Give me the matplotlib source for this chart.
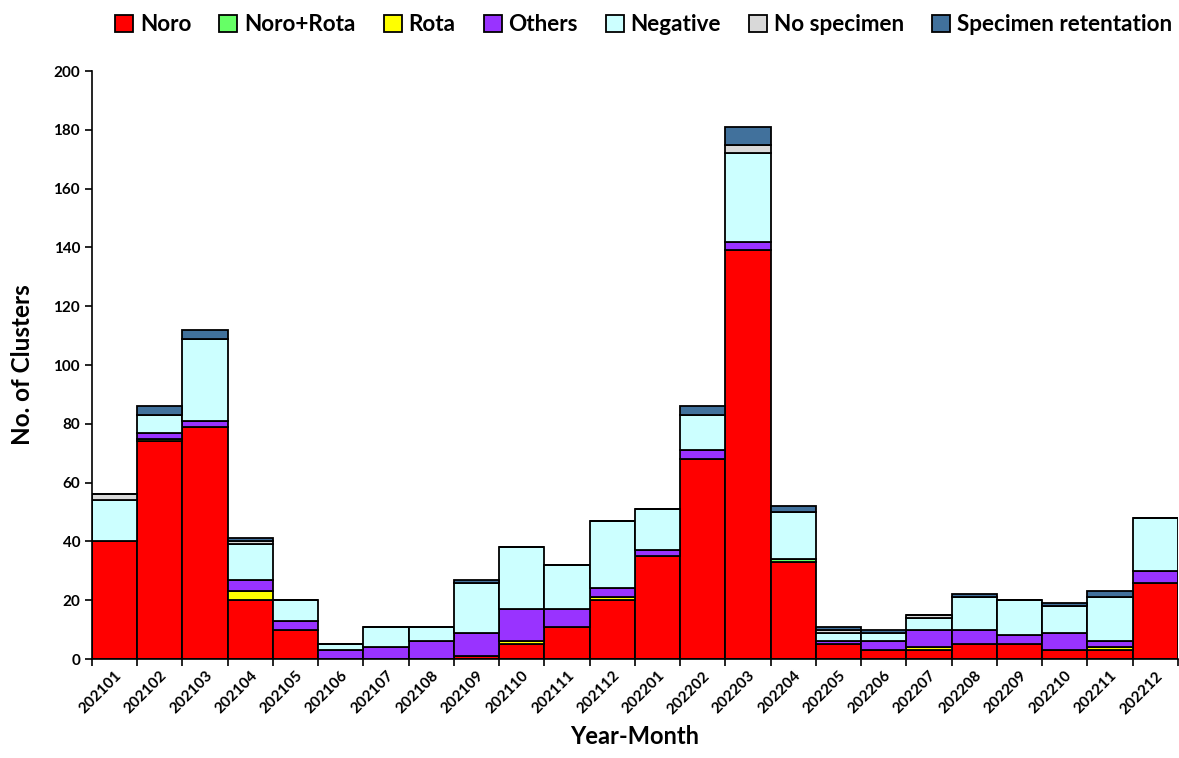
import matplotlib
matplotlib.use('Agg')
import matplotlib.pyplot as plt
import numpy as np

plt.rcParams['font.family'] = ['Lato', 'DejaVu Sans']
plt.rcParams['font.weight'] = 'bold'

# Monthly cluster counts by test result
months = ['202101', '202102', '202103', '202104', '202105', '202106',
          '202107', '202108', '202109', '202110', '202111', '202112',
          '202201', '202202', '202203', '202204', '202205', '202206',
          '202207', '202208', '202209', '202210', '202211', '202212']
noro = [40, 74, 79, 20, 10, 0, 0, 0, 1, 5, 11, 20,
        35, 68, 139, 33, 5, 3, 3, 5, 5, 3, 3, 26]
noro_rota = [0, 0, 0, 0, 0, 0, 0, 0, 0, 0, 0, 0,
             0, 0, 0, 1, 0, 0, 0, 0, 0, 0, 0, 0]
rota = [0, 1, 0, 3, 0, 0, 0, 0, 0, 1, 0, 1,
        0, 0, 0, 0, 0, 0, 1, 0, 0, 0, 1, 0]
others = [0, 2, 2, 4, 3, 3, 4, 6, 8, 11, 6, 3,
          2, 3, 3, 0, 1, 3, 6, 5, 3, 6, 2, 4]
negative = [14, 6, 28, 12, 7, 2, 7, 5, 17, 21, 15, 23,
            14, 12, 30, 16, 3, 3, 4, 11, 12, 9, 15, 18]
no_specimen = [2, 0, 0, 1, 0, 0, 0, 0, 0, 0, 0, 0,
               0, 0, 3, 0, 1, 0, 1, 0, 0, 0, 0, 0]
retention = [0, 3, 3, 1, 0, 0, 0, 0, 1, 0, 0, 0,
             0, 3, 6, 2, 1, 1, 0, 1, 0, 1, 2, 0]

series = [
    ('Noro', noro, '#FF0000'),
    ('Noro+Rota', noro_rota, '#66FF66'),
    ('Rota', rota, '#FFFF00'),
    ('Others', others, '#9933FF'),
    ('Negative', negative, '#CCFFFF'),
    ('No specimen', no_specimen, '#D9D9D9'),
    ('Specimen retentation', retention, '#41719C'),
]

fig = plt.figure(figsize=(11.79, 7.58), dpi=100)
ax = fig.add_axes([0.078, 0.1306, 0.921, 0.7757])

x = np.arange(len(months))
bottom = np.zeros(len(months))
for name, vals, color in series:
    vals = np.array(vals, dtype=float)
    ax.bar(x, vals, width=1.0, bottom=bottom, color=color,
           edgecolor='black', linewidth=1.3, label=name)
    bottom += vals

ax.set_xlim(-0.5, len(months) - 0.5)
ax.set_ylim(0, 200)
ax.set_yticks(range(0, 201, 20))

# labels sit under each bar, tick marks sit between bars
ax.set_xticks(x)
ax.set_xticklabels(months, rotation=45, ha='right', rotation_mode='anchor',
                   fontsize=11, fontweight='bold')
ax.set_xticks(np.arange(-0.5, len(months)), minor=True)
ax.tick_params(axis='x', which='major', length=0, pad=7)
ax.tick_params(axis='x', which='minor', direction='out', length=5, width=1.2)
ax.tick_params(axis='y', labelsize=11, direction='out', length=5, width=1.2)
for lbl in ax.get_yticklabels():
    lbl.set_fontweight('bold')

ax.spines['top'].set_visible(False)
ax.spines['right'].set_visible(False)
ax.spines['left'].set_linewidth(1.2)
ax.spines['bottom'].set_linewidth(1.2)

ax.set_xlabel('Year-Month', fontsize=17, fontweight='bold', labelpad=6)
ax.set_ylabel('No. of Clusters', fontsize=17.5, fontweight='bold', labelpad=14)

fig.legend(loc='upper center', bbox_to_anchor=(0.546, 1.008), ncol=7,
           frameon=False, fontsize=16.2, handlelength=0.8, handleheight=0.8,
           handletextpad=0.3, columnspacing=1.25)

fig.savefig('out.png', dpi=100)
